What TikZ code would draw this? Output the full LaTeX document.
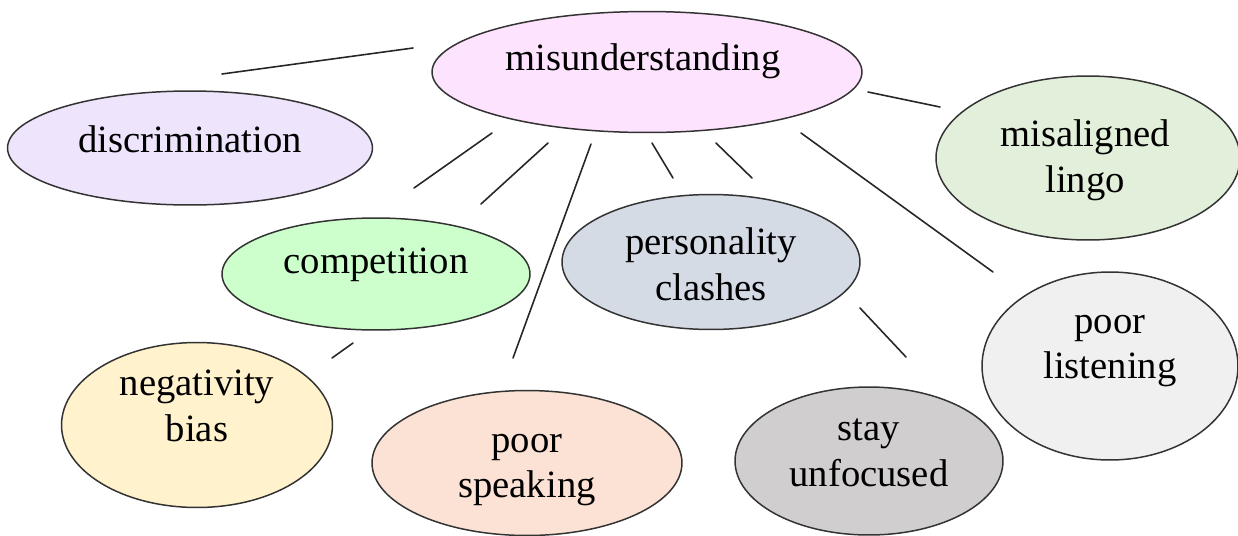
\documentclass[tikz,border=0pt]{standalone}
\usepackage{fontspec}
\setmainfont{Liberation Serif}
\usetikzlibrary{shapes.geometric}
\definecolor{cMis}{HTML}{FEE3FE}
\definecolor{cDis}{HTML}{EEE4FC}
\definecolor{cLingo}{HTML}{E2EFDA}
\definecolor{cComp}{HTML}{CCFFCC}
\definecolor{cPers}{HTML}{D5DBE5}
\definecolor{cListen}{HTML}{F0F0F0}
\definecolor{cNeg}{HTML}{FFF2CC}
\definecolor{cSpeak}{HTML}{FBE2D5}
\definecolor{cStay}{HTML}{D0CECE}
\begin{document}
\begin{tikzpicture}[x=0.02cm, y=-0.02cm, font=\fontsize{22}{26}\selectfont, line join=round, line cap=round,
  bubble/.style={ellipse, draw=black!80, line width=0.85pt, inner sep=0pt},
  txt/.style={align=center, inner sep=0pt},
  spoke/.style={line width=0.9pt, draw=black!85}]
	\useasboundingbox (0,0) rectangle (1238,535);
	
	% Cac hinh elip
	\node[bubble, fill=cMis, minimum width=8.6cm, minimum height=2.42cm] (mis) at (647,72) {};
	\node[bubble, fill=cDis, minimum width=7.3cm, minimum height=2.28cm] (dis) at (190,148) {};
	\node[bubble, fill=cLingo, minimum width=6.08cm, minimum height=3.28cm] (lingo) at (1088,158) {};
	\node[bubble, fill=cComp, minimum width=6.16cm, minimum height=2.24cm] (comp) at (376,274) {};
	\node[bubble, fill=cPers, minimum width=5.96cm, minimum height=2.7cm] (pers) at (711,262) {};
	\node[bubble, fill=cListen, minimum width=5.12cm, minimum height=3.76cm] (listen) at (1110,366) {};
	\node[bubble, fill=cNeg, minimum width=5.42cm, minimum height=3.3cm] (neg) at (197,425) {};
	\node[bubble, fill=cSpeak, minimum width=6.2cm, minimum height=2.9cm] (speak) at (527,463) {};
	\node[bubble, fill=cStay, minimum width=5.36cm, minimum height=2.96cm] (stay) at (869,461) {};
	
	% Chu trong elip
	\node[txt] (misT) at (643,61) {misunderstanding};
	\node[txt] (disT) at (190,139) {discrimination};
	\node[txt] (lingoT) at (1085,160) {misaligned\\lingo};
	\node[txt] (compT) at (376,265) {competition};
	\node[txt] (persT) at (711,264) {personality\\clashes};
	\node[txt] (listenT) at (1110,351) {poor\\listening};
	\node[txt] (negT) at (197,406) {negativity\\bias};
	\node[txt] (speakT) at (527,470) {poor\\speaking};
	\node[txt] (stayT) at (869,453) {stay\\unfocused};
	
	% Dau cac doan noi
	\coordinate (a1) at (413,48);  \coordinate (b1) at (222,74);
	\coordinate (a2) at (868,92);  \coordinate (b2) at (940,107);
	\coordinate (a3) at (492,133); \coordinate (b3) at (414,188);
	\coordinate (a4) at (548,143); \coordinate (b4) at (481,204);
	\coordinate (a5) at (591,144); \coordinate (b5) at (513,358);
	\coordinate (a6) at (652,143); \coordinate (b6) at (673,178);
	\coordinate (a7) at (716,143); \coordinate (b7) at (752,178);
	\coordinate (a8) at (801,133); \coordinate (b8) at (993,272);
	\coordinate (a9) at (353,343); \coordinate (b9) at (332,358);
	\coordinate (a10) at (860,308); \coordinate (b10) at (906,357);
	
	% Cac doan noi
	\foreach \i in {1,...,10}
		\draw[spoke] (a\i) -- (b\i);
\end{tikzpicture}
\end{document}
